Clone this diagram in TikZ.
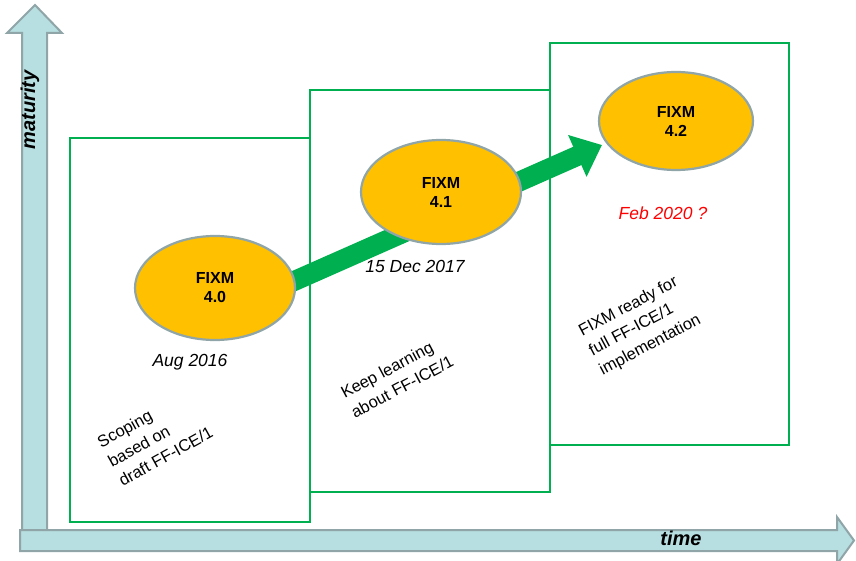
\documentclass[tikz,border=0pt]{standalone}
\usepackage{fontspec}
\setmainfont{Liberation Sans}
\usetikzlibrary{positioning, arrows.meta, shapes.geometric}
\usepackage{xcolor}
\definecolor{leafgreen}{RGB}{0, 176, 80}
\definecolor{amber}{RGB}{255, 192, 0}
\definecolor{slategrey}{RGB}{143, 165, 168}
\definecolor{paleaqua}{RGB}{183, 222, 224}

\begin{document}
\begin{tikzpicture}[x=1pt, y=-1pt,
      axis/.style={draw=slategrey, fill=paleaqua, line width=2pt},
      axislabel/.style={font=\fontsize{20}{24}\selectfont\bfseries\itshape},
      stage/.style={draw=leafgreen, line width=2.5pt},
      release/.style={ellipse, draw=slategrey, fill=amber, line width=2.2pt, minimum width=160pt, minimum height=104pt, inner sep=0pt, align=center, font=\fontsize{16}{19}\selectfont\bfseries},
      date/.style={font=\fontsize{17.5}{21}\selectfont\itshape},
      note/.style={rotate=28, align=left, font=\fontsize{16.5}{22}\selectfont},
      flow/.style={draw=leafgreen, line width=20pt, -{Triangle[length=27pt, width=44pt]}}
   ]
      \useasboundingbox (0,0) rectangle (856,561);

      % Axes (vertical first, horizontal on top)
      \draw[axis] (22,540) -- (22,33) -- (7,33) -- (35,5) -- (62,33) -- (47,33) -- (47,540) -- cycle;
      \draw[axis] (20,530) -- (837,530) -- (837,517) -- (854,540.5) -- (837,564) -- (837,551) -- (20,551) -- cycle;
      \node (maturity) [axislabel, rotate=90] at (30,110) {maturity};
      \node (time)     [axislabel] at (681,538) {time};

      % Stage boxes
      \draw[stage] (70,138) rectangle (310,522);
      \draw[stage] (310,90) rectangle (550,492);
      \draw[stage] (550,43) rectangle (789,445);

      % Progress arrow, under the releases
      \coordinate (flowstart) at (258,297);
      \coordinate (flowend)   at (602,145);
      \draw[flow] (flowstart) -- (flowend);

      % Releases
      \node (v40) [release] at (215,288) {FIXM\\4.0};
      \node (v41) [release] at (441,192) {FIXM\\4.1};
      \node (v42) [release, minimum width=154pt, minimum height=98pt] at (676,121) {FIXM\\4.2};

      % Dates
      \node (d40) [date] at (190,362) {Aug 2016};
      \node (d41) [date] at (415,266) {15 Dec 2017};
      \node (d42) [date, text=red] at (663,213) {Feb 2020 ?};

      % Stage notes
      \node (n40) [note, rotate=1] at (155,437) {Scoping\\based on\\draft FF-ICE/1};
      \node (n41) [note] at (397,377) {Keep learning\\about FF-ICE/1};
      \node (n42) [note] at (640,326) {FIXM ready for\\full FF-ICE/1\\implementation};
   \end{tikzpicture}
\end{document}
